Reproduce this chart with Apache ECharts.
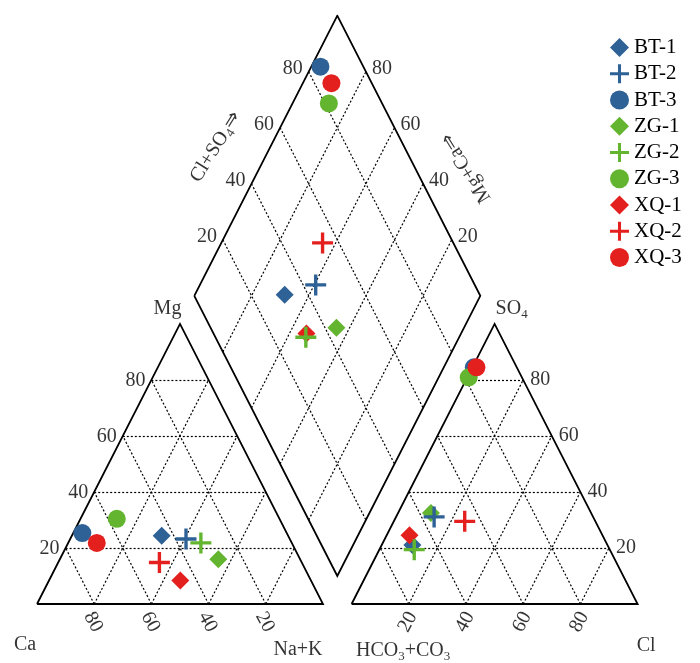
<!DOCTYPE html>
<html><head><meta charset="utf-8">
<script src="https://cdn.jsdelivr.net/npm/echarts@6/dist/echarts.min.js"></script>
<style>html,body{margin:0;padding:0;background:#fff}#c{width:700px;height:663px}</style>
</head><body><div id="c"></div>
<script>
// ---- data ----
const samples   = ['BT-1','BT-2','BT-3','ZG-1','ZG-2','ZG-3','XQ-1','XQ-2','XQ-3'];
// cations, % meq
const cationCa  = [44.2, 36.3, 71.5, 28.6, 31.8, 56.9, 45.7, 49.8, 68.2];
const cationMg  = [24.4, 23.2, 25.3, 16.0, 21.8, 30.4,  8.4, 14.8, 21.8];
const cationNaK = [31.4, 40.5,  3.2, 55.4, 46.4, 12.7, 45.9, 35.4, 10.0];
// anions, % meq
const anionHCO3 = [68.2, 55.6, 15.0, 56.0, 68.4, 18.6, 67.5, 45.7, 14.1];
const anionSO4  = [21.1, 31.1, 84.5, 32.5, 19.4, 80.9, 24.5, 29.5, 84.5];
const anionCl   = [10.7, 13.3,  0.5, 11.5, 12.2,  0.5,  8.0, 24.8,  1.4];
const tickValues = [20, 40, 60, 80];
const tickLabels = ['20', '40', '60', '80'];

// ---- geometry of the Piper diagram ----
const H = Math.sqrt(3) / 2, G = 0.1;
const cat = (nak, mg) => [nak / 100 + mg / 200, mg / 100 * H];
const an  = (cl, so4) => [1 + G + cl / 100 + so4 / 200, so4 / 100 * H];
const dia = (n, s) => [0.5 + G / 2 + 0.5 * s / 100 + 0.5 * n / 100, H * (1 + G) + H * s / 100 - H * n / 100];

// label offsets are applied in the rotated frame: convert a screen offset
function off(dx, dy, deg) {
  const a = deg * Math.PI / 180, c = Math.cos(a), s = Math.sin(a);
  return [dx * c - dy * s, dx * s + dy * c];
}

const BLUE = '#2E6195', GREEN = '#63B52F', RED = '#E4201E';
const CROSS = 'path://M8.4,0H11.6V8.4H20V11.6H11.6V20H8.4V11.6H0V8.4H8.4Z';
const style = {
  'BT-1': ['diamond', 18, BLUE], 'BT-2': [CROSS, 21, BLUE], 'BT-3': ['circle', 18, BLUE],
  'ZG-1': ['diamond', 18, GREEN], 'ZG-2': [CROSS, 21, GREEN], 'ZG-3': ['circle', 18, GREEN],
  'XQ-1': ['diamond', 18, RED], 'XQ-2': [CROSS, 21, RED], 'XQ-3': ['circle', 18, RED]
};
const FONT = 'Liberation Serif';

// grid lines
const gridSegs = [];
tickValues.forEach(t => {
  gridSegs.push([cat(0, t), cat(100 - t, t)]);
  gridSegs.push([cat(t, 0), cat(t, 100 - t)]);
  gridSegs.push([cat(100 - t, 0), cat(0, 100 - t)]);
  gridSegs.push([an(0, t), an(100 - t, t)]);
  gridSegs.push([an(t, 0), an(t, 100 - t)]);
  gridSegs.push([an(100 - t, 0), an(0, 100 - t)]);
  gridSegs.push([dia(0, t), dia(100, t)]);
  gridSegs.push([dia(t, 0), dia(t, 100)]);
});
const outlines = [
  [cat(0, 0), cat(100, 0), cat(0, 100), cat(0, 0)],
  [an(0, 0), an(100, 0), an(0, 100), an(0, 0)],
  [dia(0, 0), dia(100, 0), dia(100, 100), dia(0, 100), dia(0, 0)]
];

function labelSeries(points, label) {
  return {
    type: 'scatter', symbolSize: 0, silent: true, z: 5,
    data: points.map(p => ({ value: p[0], name: p[1] })),
    label: Object.assign({ show: true, formatter: '{b}', color: '#000', fontFamily: FONT, fontSize: 20 }, label)
  };
}

const series = [];
series.push({
  type: 'lines', coordinateSystem: 'cartesian2d', silent: true, z: 1,
  data: gridSegs.map(c => ({ coords: c })),
  lineStyle: { color: '#000', width: 1.2, type: [2, 2], opacity: 1 }
});
series.push({
  type: 'lines', coordinateSystem: 'cartesian2d', polyline: true, silent: true, z: 2,
  data: outlines.map(c => ({ coords: c })),
  lineStyle: { color: '#000', width: 1.8, type: 'solid', opacity: 1 }
});

// tick labels
series.push(labelSeries(tickValues.map((t, i) => [cat(0, t), tickLabels[i]]), { position: 'left', distance: 6, offset: [0, 1] }));
series.push(labelSeries(tickValues.map((t, i) => [cat(100 - t, 0), tickLabels[i]]), { position: 'inside', offset: off(-1, 18, -62), rotate: -62 }));
series.push(labelSeries(tickValues.map((t, i) => [an(t, 0), tickLabels[i]]), { position: 'inside', offset: off(-1, 18, 62), rotate: 62 }));
series.push(labelSeries(tickValues.map((t, i) => [an(100 - t, t), tickLabels[i]]), { position: 'right', distance: 7, offset: [0, 0] }));
series.push(labelSeries(tickValues.map((t, i) => [dia(0, t), tickLabels[i]]), { position: 'left', distance: 6, offset: [0, -3] }));
series.push(labelSeries(tickValues.map((t, i) => [dia(100 - t, 100), tickLabels[i]]), { position: 'right', distance: 6, offset: [0, -3] }));

// vertex and axis titles
const rich = { n: { fontFamily: FONT, fontSize: 20, color: '#000', lineHeight: 24 },
               s: { fontFamily: FONT, fontSize: 13, color: '#000', verticalAlign: 'bottom', lineHeight: 24 } };
const titles = [
  [cat(0, 100), '{n|Mg}', [-12.5, -15], 0],
  [cat(0, 0), '{n|Ca}', [-12, 41], 0],
  [cat(100, 0), '{n|Na+K}', [-25, 46], 0],
  [an(0, 100), '{n|SO}{s|4}', [17, -15], 0],
  [an(0, 0), '{n|HCO}{s|3}{n|+CO}{s|3}', [51.5, 47], 0],
  [an(100, 0), '{n|Cl}', [8.5, 42], 0],
  [dia(0, 50), '{n|Cl+SO}{s|4}{n|⇒}', [-50, -9], 58],
  [dia(50, 100), '{n|Mg+Ca⇒}', [57, 12], 122]
];
titles.forEach(t => {
  series.push({
    type: 'scatter', symbolSize: 0, silent: true, z: 5,
    data: [{ value: t[0] }],
    label: { show: true, position: 'inside', formatter: t[1], rich: rich, offset: off(t[2][0], t[2][1], t[3]), rotate: t[3] }
  });
});

// samples: diamonds first, then crosses, then circles
const drawOrder = [0, 3, 6, 1, 4, 7, 2, 5, 8];
drawOrder.forEach(i => {
  const name = samples[i], st = style[name];
  series.push({
    type: 'scatter', name: name, z: 10,
    symbol: st[0], symbolSize: st[1], symbolKeepAspect: true,
    itemStyle: { color: st[2], opacity: 1 },
    data: [cat(cationNaK[i], cationMg[i]), an(anionCl[i], anionSO4[i]), dia(cationNaK[i], anionSO4[i] + anionCl[i])]
  });
});

const chart = echarts.init(document.getElementById('c'), null, { renderer: 'canvas' });
chart.setOption({
  animation: false,
  backgroundColor: '#fff',
  grid: { left: 37, right: 62.4, top: 15.7, bottom: 59 },
  xAxis: { type: 'value', min: 0, max: 2 + G, show: false },
  yAxis: { type: 'value', min: 0, max: (2 + G) * H, show: false },
  legend: {
    data: samples, orient: 'vertical', left: 610, top: 37,
    itemWidth: 19, itemHeight: 19, itemGap: 5.25, padding: 0,
    textStyle: { fontFamily: FONT, fontSize: 21, color: '#000' }
  },
  series: series
});
</script></body></html>
